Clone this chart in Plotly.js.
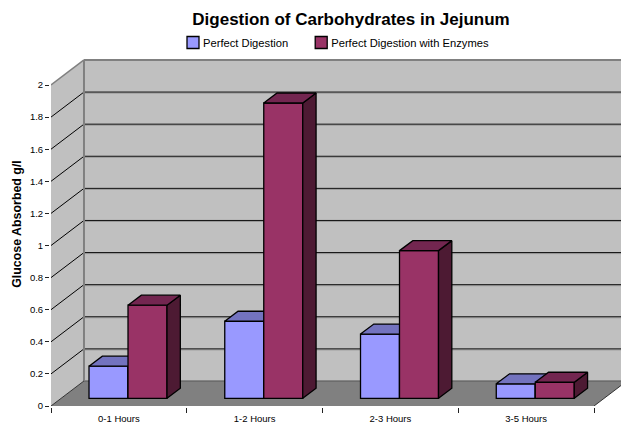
<!DOCTYPE html>
<html>
<head>
<meta charset="utf-8">
<script src="https://cdn.plot.ly/plotly-3.0.1.min.js"></script>
<style>html,body{margin:0;padding:0;background:#fff}#c{width:621px;height:428px}</style>
</head>
<body>
<div id="c"></div>
<script>
const categories = ['0-1 Hours','1-2 Hours','2-3 Hours','3-5 Hours'];
const perfect = [0.20,0.48,0.40,0.09];
const enzymes = [0.58,1.84,0.92,0.10];
const yTicks = [0,0.2,0.4,0.6,0.8,1,1.2,1.4,1.6,1.8,2];
const yTickText = ['0','0.2','0.4','0.6','0.8','1','1.2','1.4','1.6','1.8','2'];

// projection of the fake 3D box, in axis units
const wallDx = 0.243, wallDy = 0.156;      // back wall offset
const frontDy = 0.048;                     // bar front plane offset
const barDx = 0.098, barDy = 0.0623;       // bar depth
const barStart = 0.28, barW = 0.2873;
const yMax = 2, xMax = categories.length;

const FONT = 'Liberation Sans, Arial, sans-serif';
const fills = {
  a:{front:'#9999ff', top:'#7373bf', side:'#4d4d80'},
  b:{front:'#993366', top:'#732650', side:'#4d1a33'}
};
const edge = {color:'#000', width:1.3};

function barX(i, s){ return i + barStart + s*barW; }
function front(name, vals, s, col, z){
  return {type:'bar', name, x:vals.map((v,i)=>barX(i,s)+barW/2), y:vals, base:vals.map(()=>frontDy),
    width:vals.map(()=>barW), marker:{color:col.front, line:edge}, zorder:z, hoverinfo:'x+y'};
}
function poly(vals, s, col, kind, z){
  const xs=[], ys=[];
  vals.forEach((v,i)=>{
    const l=barX(i,s), r=l+barW, t=v+frontDy, b=frontDy;
    if(kind==='top'){
      xs.push(l,r,r+barDx,l+barDx,l,null); ys.push(t,t,t+barDy,t+barDy,t,null);
    } else {
      xs.push(r,r+barDx,r+barDx,r,r,null); ys.push(t,t+barDy,b+barDy,b,t,null);
    }
  });
  return {type:'scatter', mode:'lines', x:xs, y:ys, fill:'toself', fillcolor:col[kind],
    line:edge, showlegend:false, hoverinfo:'skip', zorder:z};
}

const traces = [
  front('Perfect Digestion', perfect, 0, fills.a, 1),
  poly(perfect,0,fills.a,'side',2),
  poly(perfect,0,fills.a,'top',2),
  front('Perfect Digestion with Enzymes', enzymes, 1, fills.b, 3),
  poly(enzymes,1,fills.b,'side',4),
  poly(enzymes,1,fills.b,'top',4)
];

const shapes = [];
function poly2(pts, fill){
  shapes.push({type:'path', layer:'below', xref:'x', yref:'y',
    path:pts.map((p,i)=>(i?'L':'M')+p[0]+','+p[1]).join(' ')+' Z',
    fillcolor:fill, line:{width:0}});
}
function seg(x0,y0,x1,y1,color,width){
  shapes.push({type:'line', layer:'below', xref:'x', yref:'y', x0,y0,x1,y1, line:{color,width}});
}
poly2([[wallDx,wallDy],[xMax+wallDx,wallDy],[xMax+wallDx,yMax+wallDy],[wallDx,yMax+wallDy]],'#c0c0c0');
poly2([[0,0],[wallDx,wallDy],[wallDx,yMax+wallDy],[0,yMax]],'#c0c0c0');
poly2([[0,0],[xMax,0],[xMax+wallDx,wallDy],[wallDx,wallDy]],'#808080');
yTicks.forEach(v=>{
  const y=v+wallDy;
  if(v>0 && v<yMax){
    seg(wallDx,y-0.0065,xMax+wallDx,y-0.0065,'#999',1);
    seg(wallDx,y,xMax+wallDx,y,'#111',1);
    seg(0,v,wallDx,y,'#000',1);
  }
});
seg(wallDx,wallDy,xMax+wallDx,wallDy,'#555',1);
seg(wallDx,yMax+wallDy,xMax+wallDx,yMax+wallDy,'#808080',2);
seg(wallDx,wallDy,wallDx,yMax+wallDy,'#808080',2);
seg(0,yMax,wallDx,yMax+wallDy,'#808080',1.5);
seg(0,0,wallDx,wallDy,'#333',1);
seg(xMax,0,xMax+wallDx,wallDy,'#333',1);

const layout = {
  width:621, height:428,
  margin:{l:51,r:0,t:42,b:22},
  paper_bgcolor:'#fff', plot_bgcolor:'#fff',
  barmode:'overlay',
  font:{family:FONT, color:'#000', size:9.5},
  title:{text:'<b>Digestion of Carbohydrates in Jejunum</b>', x:351/621, xanchor:'center', y:0.956, yanchor:'middle',
    font:{family:FONT,size:17,color:'#000'}},
  legend:{orientation:'h', x:(163-51)/570, xanchor:'left', y:(406-28)/364, yref:'paper', yanchor:'top',
    font:{family:FONT,size:11.2,color:'#000'}, bgcolor:'rgba(0,0,0,0)', traceorder:'normal'},
  xaxis:{range:[0,570/135.75], tickmode:'array', tickvals:categories.map((c,i)=>i+0.5), ticktext:categories,
    ticks:'outside', showgrid:false, zeroline:false, showline:true, linecolor:'#111', linewidth:2,
    tickfont:{family:FONT,size:9.5,color:'#000'}, ticklen:3, tickcolor:'rgba(0,0,0,0)',
    minor:{tickmode:'array', tickvals:[0,1,2,3,4], ticks:'outside', ticklen:5, tickcolor:'#222', tickwidth:1, showgrid:false},
    fixedrange:true},
  yaxis:{range:[0,364/160.5], tickmode:'array', tickvals:yTicks, ticktext:yTickText, ticks:'outside', ticklen:4,
    tickcolor:'#222', tickwidth:1, showgrid:false, zeroline:false, showline:true, linecolor:'#444', linewidth:2,
    tickfont:{family:FONT,size:9.5,color:'#000'},
    title:{text:'<b>Glucose Absorbed g/l</b>', font:{family:FONT,size:12.4,color:'#000'}, standoff:6},
    fixedrange:true},
  shapes
};
Plotly.newPlot('c', traces, layout, {displayModeBar:false, staticPlot:true}).then(gd=>{
  // the reference keeps its legend swatches closer to their labels and its entries 2px tighter
  gd.querySelectorAll('.legend .legendsymbols').forEach(n=>n.setAttribute('transform','translate(10,0)'));
  const items = gd.querySelectorAll('.legend .traces');
  if(items[1]){
    const m = /translate\(([-\d.]+)[ ,]+([-\d.]+)\)/.exec(items[1].getAttribute('transform')||'');
    if(m) items[1].setAttribute('transform','translate('+(parseFloat(m[1])-2)+','+m[2]+')');
  }
});
</script>
</body>
</html>
